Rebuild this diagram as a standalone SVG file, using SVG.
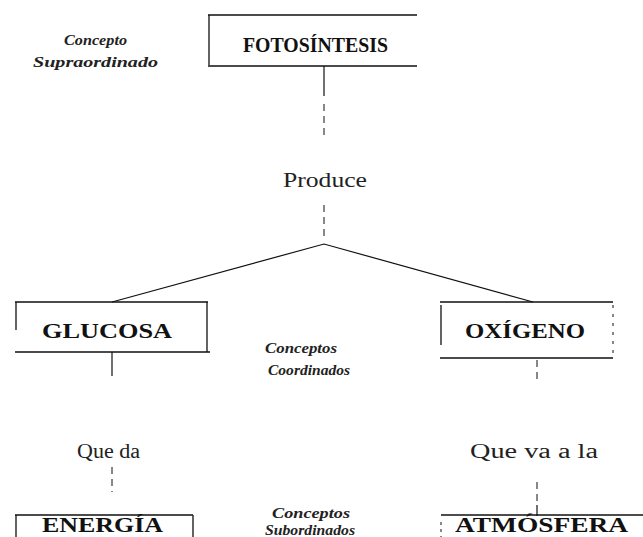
<svg xmlns="http://www.w3.org/2000/svg" width="643" height="537" viewBox="0 0 643 537">
<style>
.bx{fill:none;stroke:#111;stroke-width:1.3}
.ln{fill:none;stroke:#111;stroke-width:1.2}
.dl{fill:none;stroke:#111;stroke-width:1;stroke-dasharray:7 5}
.t{font-family:"Liberation Serif","Times New Roman",serif;font-weight:bold;font-size:22px;fill:#111}
.r{font-family:"Liberation Serif","Times New Roman",serif;font-size:20px;fill:#222}
.i{font-family:"Liberation Serif","Times New Roman",serif;font-style:italic;font-weight:bold;font-size:15px;fill:#222}
</style>
<rect width="643" height="537" fill="#fff"/>
<g id="connectors">
<path class="ln" d="M324 66V96"/>
<path class="dl" d="M324 104V140"/>
<path class="dl" d="M324 205V240"/>
<path class="ln" d="M112 302L324 244L533 302"/>
<path class="ln" d="M112 352V376"/>
<path class="dl" d="M112 467V492"/>
<path class="dl" d="M537 360V382"/>
<path class="dl" d="M537 482V505"/>
<path class="ln" d="M537 505V516"/>
</g>
<g id="label-supra">
<text class="i" x="64" y="45" textLength="63" lengthAdjust="spacingAndGlyphs">Concepto</text>
<text class="i" x="33" y="67" textLength="125" lengthAdjust="spacingAndGlyphs">Supraordinado</text>
</g>
<g id="fotosintesis">
<path class="bx" d="M208 15H417M209 15V65M208 66H417"/>
<text class="t" x="243" y="52" textLength="145" lengthAdjust="spacingAndGlyphs">FOTOSÍNTESIS</text>
</g>
<g id="produce">
<text class="r" x="283" y="187" textLength="84" lengthAdjust="spacingAndGlyphs">Produce</text>
</g>
<g id="glucosa">
<path class="bx" d="M15 302H208M16 302V330M207 302V352M15 352H210"/>
<text class="t" x="42" y="338" textLength="130" lengthAdjust="spacingAndGlyphs">GLUCOSA</text>
</g>
<g id="label-coord">
<text class="i" x="265" y="353" textLength="72" lengthAdjust="spacingAndGlyphs">Conceptos</text>
<text class="i" x="268" y="375" textLength="82" lengthAdjust="spacingAndGlyphs">Coordinados</text>
</g>
<g id="oxigeno">
<path class="bx" d="M440 302H613M441 305V345M440 358H613"/>
<path class="dl" d="M613 305V355" style="stroke-dasharray:3 6"/>
<text class="t" x="465" y="338" textLength="120" lengthAdjust="spacingAndGlyphs">OXÍGENO</text>
</g>
<g id="que-da">
<text class="r" x="77" y="458" textLength="63" lengthAdjust="spacingAndGlyphs">Que da</text>
</g>
<g id="que-va">
<text class="r" x="470" y="458" textLength="128" lengthAdjust="spacingAndGlyphs">Que va a la</text>
</g>
<g id="energia">
<path class="bx" d="M15 515H193M16 515V537M193 515V537"/>
<text class="t" x="42" y="532" textLength="121" lengthAdjust="spacingAndGlyphs">ENERGÍA</text>
</g>
<g id="label-sub">
<text class="i" x="272" y="518" textLength="78" lengthAdjust="spacingAndGlyphs">Conceptos</text>
<text class="i" x="265" y="535" textLength="90" lengthAdjust="spacingAndGlyphs">Subordinados</text>
</g>
<g id="atmosfera">
<path class="bx" d="M441 515H643"/>
<path class="dl" d="M441 522V537" style="stroke-dasharray:3 4"/>
<text class="t" x="455" y="532" textLength="173" lengthAdjust="spacingAndGlyphs">ATMÓSFERA</text>
</g>
</svg>
